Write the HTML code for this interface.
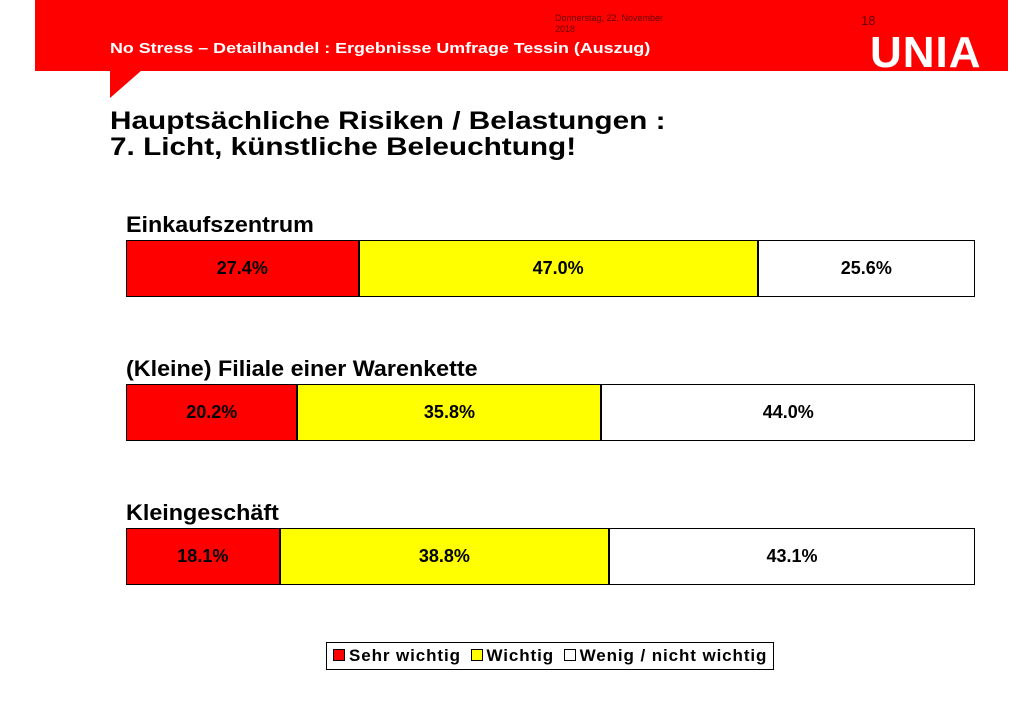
<!DOCTYPE html>
<html><head><meta charset="utf-8"><style>
body{margin:0;width:1024px;height:709px;background:#fff;position:relative;overflow:hidden;font-family:"Liberation Sans",sans-serif}
.abs{position:absolute}
</style></head><body>
<div class="abs" style="left:35px;top:0;width:973px;height:71px;background:#ff0000"></div>
<svg class="abs" style="left:0;top:0" width="1024" height="110"><polygon points="110,70 142,70 110,98" fill="#ff0000"/></svg>
<div class="abs" style="left:555px;top:13px;font-size:9px;color:#600;line-height:11px">Donnerstag, 22. November<br>2018</div>
<div class="abs" style="left:861px;top:13px;font-size:13px;color:#600">18</div>
<div class="abs" style="left:110px;top:40px;font-size:15px;font-weight:bold;color:#fff;transform:scaleX(1.19);transform-origin:left;white-space:nowrap">No Stress – Detailhandel : Ergebnisse Umfrage Tessin (Auszug)</div>
<div class="abs" style="left:870px;top:32px;font-size:44px;font-weight:bold;color:#fff;letter-spacing:1px;line-height:42px">UNIA</div>
<div class="abs" style="left:110px;top:108px;font-size:25px;font-weight:bold;line-height:26px;color:#000;transform:scaleX(1.19);transform-origin:left;white-space:nowrap">Hauptsächliche Risiken / Belastungen :<br>7. Licht, künstliche Beleuchtung!</div>
<div id="chart"></div>
<div class="abs" style="left:326px;top:642px;width:446px;height:26px;border:1px solid #000;font-size:17px;font-weight:bold;line-height:26px;white-space:nowrap;letter-spacing:0.9px">
<span style="display:inline-block;width:10px;height:10px;background:#f00;border:1px solid #000;margin:0 4px 0 6px"></span>Sehr wichtig <span style="display:inline-block;width:10px;height:10px;background:#ff0;border:1px solid #000;margin:0 4px 0 4px"></span>Wichtig <span style="display:inline-block;width:10px;height:10px;background:#fff;border:1px solid #000;margin:0 4px 0 4px"></span>Wenig / nicht wichtig</div>
<script>
const categories=["Einkaufszentrum","(Kleine) Filiale einer Warenkette","Kleingeschäft"];
const sehrWichtig=[27.4,20.2,18.1];
const wichtig=[47.0,35.8,38.8];
const wenig=[25.6,44.0,43.1];
const colors=["#ff0000","#ffff00","#ffffff"];
const x0=126,x1=975,barH=57,tops=[240,384,528];
const xs=v=>v/100*(x1-x0);
const chart=document.getElementById('chart');
categories.forEach((c,i)=>{
  const lab=document.createElement('div');
  
  
  lab.className='abs';
  lab.style.cssText=`left:${x0}px;top:${tops[i]-28}px;font-size:22px;font-weight:bold;transform:scaleX(1.06);transform-origin:left;white-space:nowrap`;
  lab.textContent=c;chart.appendChild(lab);
  let x=x0;
  [sehrWichtig[i],wichtig[i],wenig[i]].forEach((v,j)=>{
    const w=xs(v);
    const b=document.createElement('div');
    
    
    b.className='abs';
    b.style.cssText=`left:${x}px;top:${tops[i]}px;width:${w}px;height:${barH}px;background:${colors[j]};border:1px solid #000;box-sizing:border-box;display:flex;align-items:center;justify-content:center;font-size:18px;font-weight:bold`;
    b.textContent=v.toFixed(1)+'%';
    chart.appendChild(b);x+=w;
  });
});
</script>
</body></html>
